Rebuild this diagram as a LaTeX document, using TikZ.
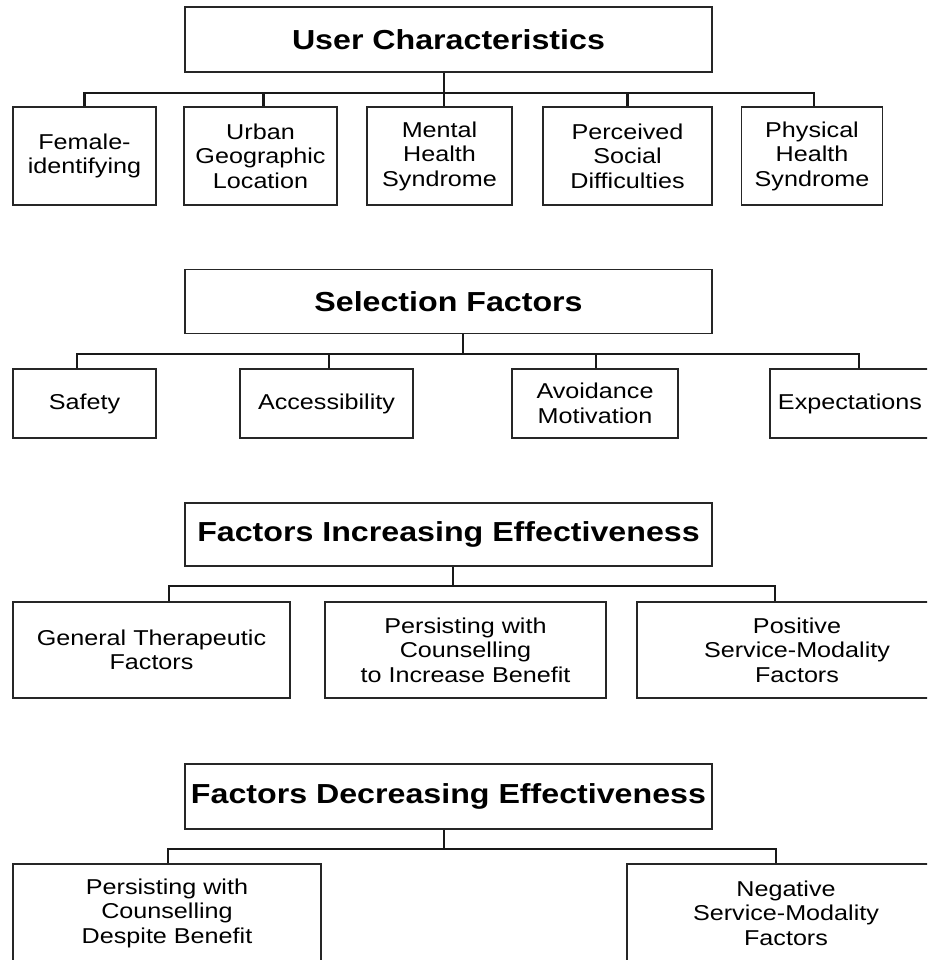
\documentclass[tikz,border=0pt]{standalone}
\usepackage{fontspec}
\setmainfont{Liberation Sans}[FakeStretch=1.17]
\usepackage{tikz}
\usetikzlibrary{positioning}

\begin{document}
\begin{tikzpicture}[
    x=1pt, y=-1pt,
    titlebox/.style={draw=black!85, line width=1.6pt, minimum width=527pt,
      font=\fontsize{27.5}{31}\selectfont\bfseries, inner sep=0pt},
    itembox/.style={draw=black!85, line width=1.6pt, align=center,
      font=\fontsize{21.5}{24.5}\selectfont, inner sep=0pt},
    link/.style={draw=black!90, line width=2.4pt},
  ]
    \useasboundingbox (0,0) rectangle (927,960);
    \clip (0,0) rectangle (927,960);

    % User Characteristics
    \node[titlebox, minimum height=65pt] (uc) at (448.5,39.5) {User Characteristics};
    \node[itembox, minimum width=143pt, minimum height=98pt] (fem) at (84.5,156) {Female-\\identifying};
    \node[itembox, minimum width=153pt, minimum height=98pt] (urb) at (260.5,156) {Urban\\Geographic\\Location};
    \node[itembox, minimum width=145pt, minimum height=98pt] (men) at (439.5,156) {Mental\\Health\\Syndrome};
    \node[itembox, minimum width=169pt, minimum height=98pt] (per) at (627.5,156) {Perceived\\Social\\Difficulties};
    \node[itembox, minimum width=141pt, minimum height=98pt] (phy) at (812,156) {Physical\\Health\\Syndrome};
    \coordinate (ucbus) at (444,93);
    \draw[link] (uc.south -| ucbus) -- (ucbus);
    \draw[link] (fem.north) |- (ucbus);
    \draw[link] ([xshift=3pt]urb.north) |- (ucbus);
    \draw[link] ([xshift=4.5pt]men.north) |- (ucbus);
    \draw[link] (per.north) |- (ucbus);
    \draw[link] ([xshift=2pt]phy.north) |- (ucbus);

    % Selection Factors
    \node[titlebox, minimum height=64pt] (sf) at (448.5,301.5) {Selection Factors};
    \node[itembox, minimum width=143pt, minimum height=69pt] (saf) at (84.5,403.5) {Safety};
    \node[itembox, minimum width=173pt, minimum height=69pt] (acc) at (326.5,403.5) {Accessibility};
    \node[itembox, minimum width=166pt, minimum height=69pt] (avo) at (595,403.5) {Avoidance\\Motivation};
    \node[itembox, minimum width=160pt, minimum height=69pt] (exp) at (850,403.5) {Expectations};
    \coordinate (sfbus) at (463,354);
    \draw[link] (sf.south -| sfbus) -- (sfbus);
    \draw[link] ([xshift=-7.5pt]saf.north) |- (sfbus);
    \draw[link] ([xshift=2.5pt]acc.north) |- (sfbus);
    \draw[link] ([xshift=1pt]avo.north) |- (sfbus);
    \draw[link] ([xshift=9pt]exp.north) |- (sfbus);

    % Factors Increasing Effectiveness
    \node[titlebox, minimum height=63pt] (fi) at (448.5,534.5) {Factors Increasing Effectiveness};
    \node[itembox, minimum width=277pt, minimum height=96pt] (gen) at (151.5,650) {General Therapeutic\\Factors};
    \node[itembox, minimum width=281pt, minimum height=96pt] (pwi) at (465.5,650) {Persisting with\\Counselling\\to Increase Benefit};
    \node[itembox, minimum width=320pt, minimum height=96pt] (pos) at (797,650) {Positive\\Service-Modality\\Factors};
    \coordinate (fibus) at (453,586);
    \draw[link] (fi.south -| fibus) -- (fibus);
    \draw[link] ([xshift=17.5pt]gen.north) |- (fibus);
    \draw[link] ([xshift=-22pt]pos.north) |- (fibus);

    % Factors Decreasing Effectiveness
    \node[titlebox, minimum height=65pt] (fd) at (448.5,796.5) {Factors Decreasing Effectiveness};
    \node[itembox, minimum width=308pt, minimum height=98pt] (pds) at (167,913) {Persisting with\\Counselling\\Despite Benefit};
    \node[itembox, minimum width=318pt, minimum height=98pt] (neg) at (786,913) {Negative\\Service-Modality\\Factors};
    \coordinate (fdbus) at (444,849);
    \draw[link] (fd.south -| fdbus) -- (fdbus);
    \draw[link] ([xshift=1pt]pds.north) |- (fdbus);
    \draw[link] ([xshift=-10pt]neg.north) |- (fdbus);
  \end{tikzpicture}
\end{document}
